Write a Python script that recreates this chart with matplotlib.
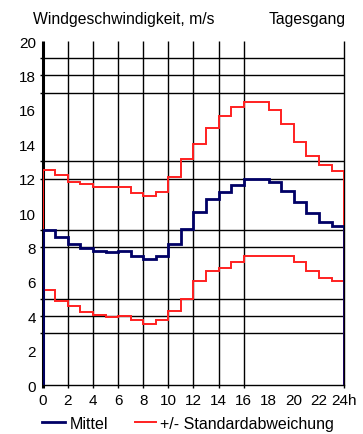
import numpy as np
import matplotlib.pyplot as plt

plt.rcParams['font.family'] = ['Liberation Sans', 'DejaVu Sans']

# hourly values, 0-1h ... 23-24h
hours = np.arange(0, 25)
mittel = [9.0, 8.6, 8.2, 7.95, 7.8, 7.72, 7.78, 7.52, 7.35, 7.52, 8.18, 9.05,
          10.05, 10.8, 11.2, 11.65, 12.0, 12.0, 11.78, 11.26, 10.62, 10.0, 9.46, 9.26]
oben = [12.52, 12.2, 11.82, 11.69, 11.53, 11.5, 11.5, 11.16, 11.0, 11.2, 12.11, 13.14,
        14.01, 14.96, 15.66, 16.18, 16.47, 16.47, 15.99, 15.16, 14.15, 13.33, 12.79, 12.44]
unten = [5.5, 4.9, 4.61, 4.22, 4.07, 3.97, 4.03, 3.8, 3.57, 3.76, 4.3, 5.02,
         6.03, 6.61, 6.8, 7.15, 7.52, 7.52, 7.52, 7.52, 7.13, 6.65, 6.2, 6.03]

grid_y = [19, 18, 17, 13, 12, 9, 8, 5, 4, 3]
grid_x = [2, 4, 6, 8, 10, 12, 14, 16, 24]
xticks = list(range(0, 25, 2))
xlabels = [str(t) for t in xticks[:-1]] + ['24h']

fig = plt.figure(figsize=(3.63, 4.35), dpi=100)
ax = fig.add_axes([0.118, 0.1126, 0.83, 0.7908])

# grid lines stick out a little past the axes, like the original
ax.hlines(grid_y, -0.25, 24, color='black', lw=1.0, zorder=1, clip_on=False)
ax.vlines(grid_x, -0.2, 20, color='black', lw=1.0, zorder=1, clip_on=False)
ax.vlines([0], -0.2, 20, color='black', lw=2.2, zorder=2, clip_on=False)

ax.stairs(oben, hours, color='#ff2020', lw=1.4, zorder=3)
ax.stairs(unten, hours, color='#ff2020', lw=1.4, zorder=3)
ax.stairs(mittel, hours, color='#000066', lw=2.0, zorder=4)

ax.set_xlim(0, 24)
ax.set_ylim(0, 20)
for s in ['top', 'right', 'left']:
    ax.spines[s].set_visible(False)
ax.spines['bottom'].set_linewidth(1.0)
ax.set_xticks(xticks)
ax.set_xticklabels(xlabels)
ax.set_yticks(range(0, 21, 2))
ax.tick_params(axis='both', length=0, labelsize=11, pad=6)
ax.tick_params(axis='y', pad=5)

fig.text(0.09, 0.955, 'Windgeschwindigkeit, m/s', fontsize=11.3, va='center')
fig.text(0.952, 0.955, 'Tagesgang', fontsize=11.3, va='center', ha='right')

# legend drawn manually at bottom
fig.lines.append(plt.Line2D([0.116, 0.18], [0.027, 0.027], color='#000066', lw=2.0,
                            transform=fig.transFigure))
fig.text(0.192, 0.025, 'Mittel', fontsize=11.5, va='center')
fig.lines.append(plt.Line2D([0.372, 0.43], [0.027, 0.027], color='#ff2020', lw=1.4,
                            transform=fig.transFigure))
fig.text(0.44, 0.025, '+/- Standardabweichung', fontsize=11.5, va='center')

fig.savefig('out.png', dpi=100)
